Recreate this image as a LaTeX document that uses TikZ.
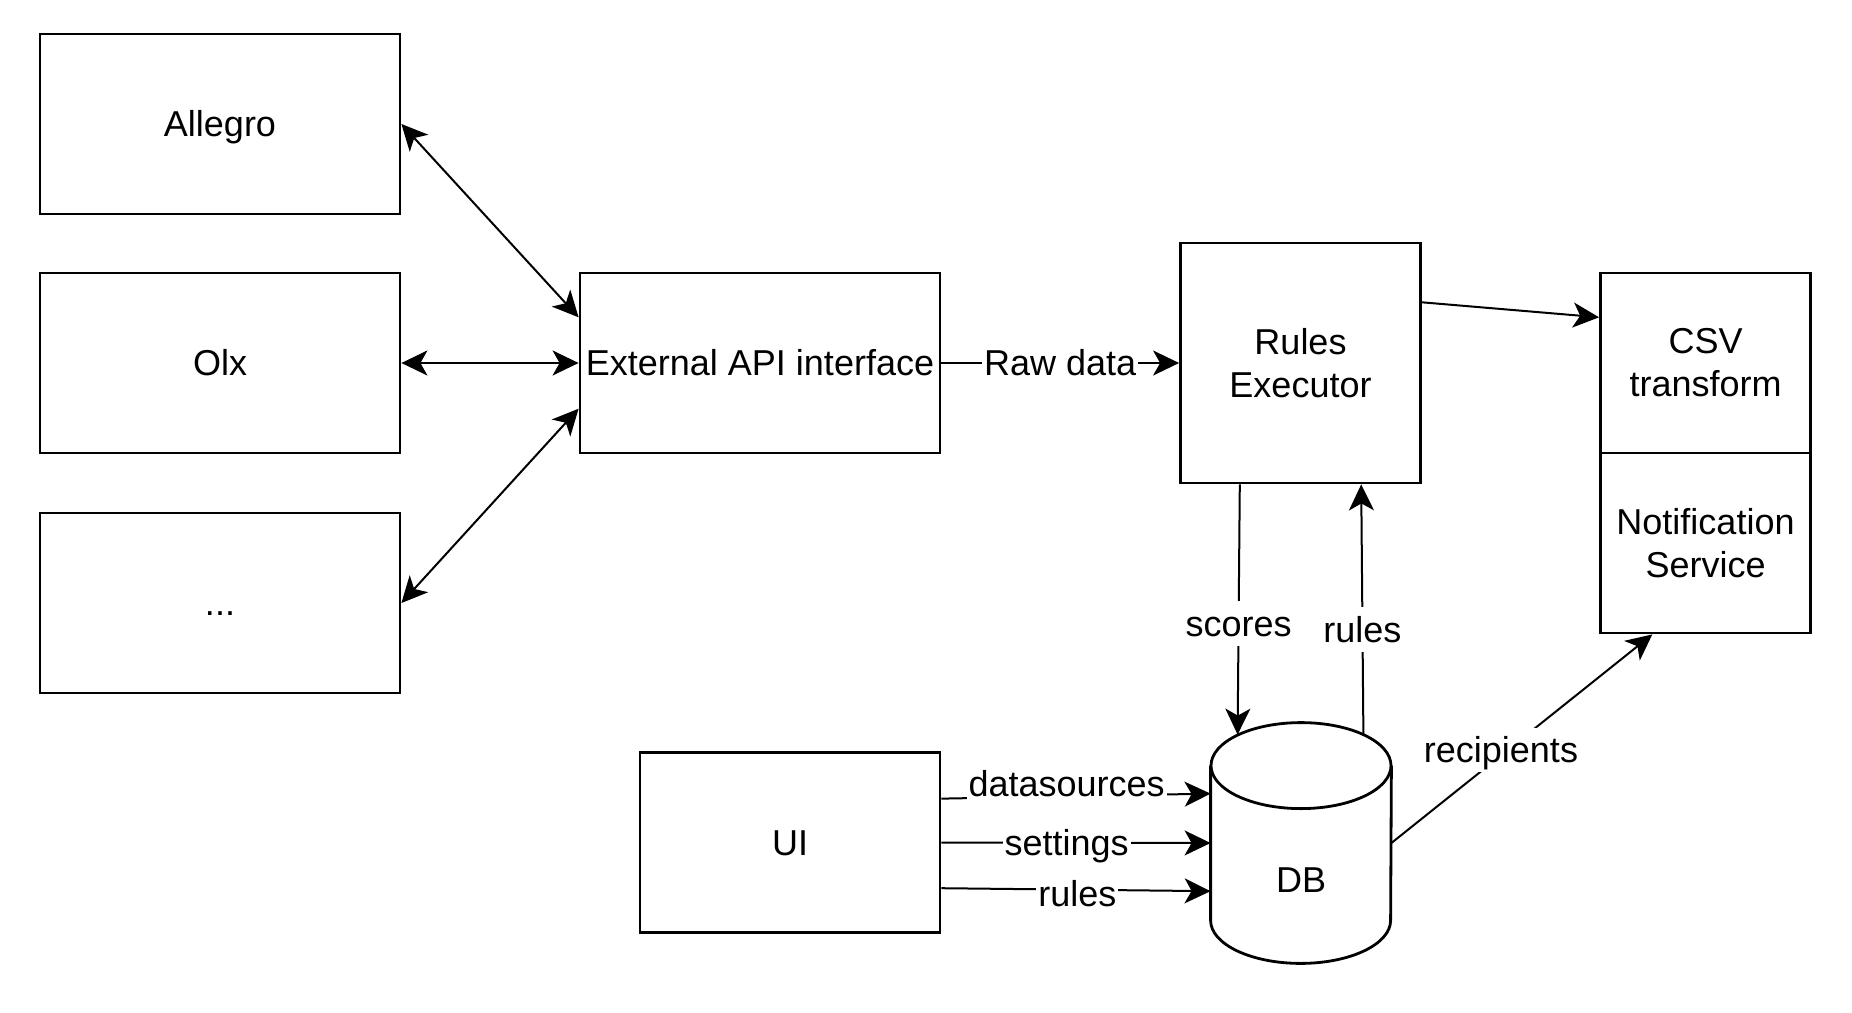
\documentclass[tikz,border=0pt]{standalone}
\usepackage{fontspec}
\setmainfont{Liberation Sans}
\usetikzlibrary{positioning,arrows.meta,calc}
\tikzset{
  block/.style={draw=black, line width=1.4pt, align=center, inner sep=2pt,
    font=\fontsize{18}{21.6}\selectfont, fill=white},
  oneline/.style={text height=16.3pt, text depth=3.8pt},
  store/.style={minimum width=90pt, minimum height=120pt, inner sep=0pt},
  shell/.style={draw=black, line width=1.4pt, fill=white},
  caption/.style={font=\fontsize{18}{21.6}\selectfont, oneline, inner sep=1pt},
  link/.style={-{Stealth[length=13pt, width=12.5pt, inset=3.5pt]}, line width=1pt},
  duplex/.style={{Stealth[length=13pt, width=12.5pt, inset=3.5pt]}-{Stealth[length=13pt, width=12.5pt, inset=3.5pt]}, line width=1pt},
  tag/.style={caption, fill=white},
}
\begin{document}
\begin{tikzpicture}[x=0.5pt,y=-0.5pt]
\useasboundingbox[fill=white] (0,0) rectangle (1852,1012);
% marketplaces
\node[block, oneline, minimum width=180pt, minimum height=90pt] (allegro) at (220,124) {Allegro};
\node[block, oneline, minimum width=180pt, minimum height=90pt] (olx) at (220,363) {Olx};
\node[block, oneline, minimum width=180pt, minimum height=90pt] (more) at (220,603) {...};
% processing chain
\node[block, oneline, minimum width=180pt, minimum height=90pt] (api) at (760,363) {External API interface};
\node[block, minimum width=120pt, minimum height=120pt] (exec) at (1300.5,363) {Rules\\Executor};
\node[block, minimum width=105pt, minimum height=90pt] (csv) at (1705.5,363) {CSV\\transform};
\node[block, minimum width=105pt, minimum height=90pt] (notif) at (1705.5,543) {Notification\\Service};
\node[block, oneline, minimum width=150pt, minimum height=90pt] (ui) at (790,842.5) {UI};
% database cylinder
\node[store] (db) at (1301,843) {};
\draw[shell] ([yshift=-21.5pt]db.north west) -- ([yshift=21.5pt]db.south west)
  arc[start angle=180, end angle=0, x radius=90, y radius=43] -- ([yshift=-21.5pt]db.north east);
\draw[shell] ([yshift=-21.5pt]db.north) ellipse[x radius=90, y radius=43];
\node[caption] (dbname) at (1301,880) {DB};
% connectors
\draw[duplex] (allegro.east) -- ($(api.north west)!0.25!(api.south west)$);
\draw[duplex] (olx.east) -- (api.west);
\draw[duplex] (more.east) -- ($(api.north west)!0.75!(api.south west)$);
\draw[link] (api.east) -- node[tag] {Raw data} (exec.west);
\draw[link] ($(exec.north east)!0.25!(exec.south east)$) -- ($(csv.north west)!0.25!(csv.south west)$);
\draw[link] ($(exec.south west)!0.25!(exec.south east)$) -- node[tag, pos=0.556] {scores} ([xshift=13.5pt,yshift=-6pt]db.north west);
\draw[link] ([xshift=-14pt,yshift=-6pt]db.north east) -- node[tag, pos=0.42] {rules} ($(exec.south west)!0.75!(exec.south east)$);
\draw[link] ($(ui.north east)!0.26!(ui.south east)$) -- node[tag, pos=0.465, yshift=6.25pt] {datasources} ($(db.north west)!0.295!(db.south west)$);
\draw[link] (ui.east) -- node[tag, pos=0.465] {settings} (db.west);
\draw[link] ($(ui.north east)!0.75!(ui.south east)$) -- node[tag, pos=0.505, yshift=-2pt] {rules} ($(db.north west)!0.7!(db.south west)$);
\draw[link] (db.east) -- node[tag, pos=0.42, yshift=2.5pt] {recipients} ($(notif.south west)!0.25!(notif.south east)$);
\end{tikzpicture}
\end{document}
